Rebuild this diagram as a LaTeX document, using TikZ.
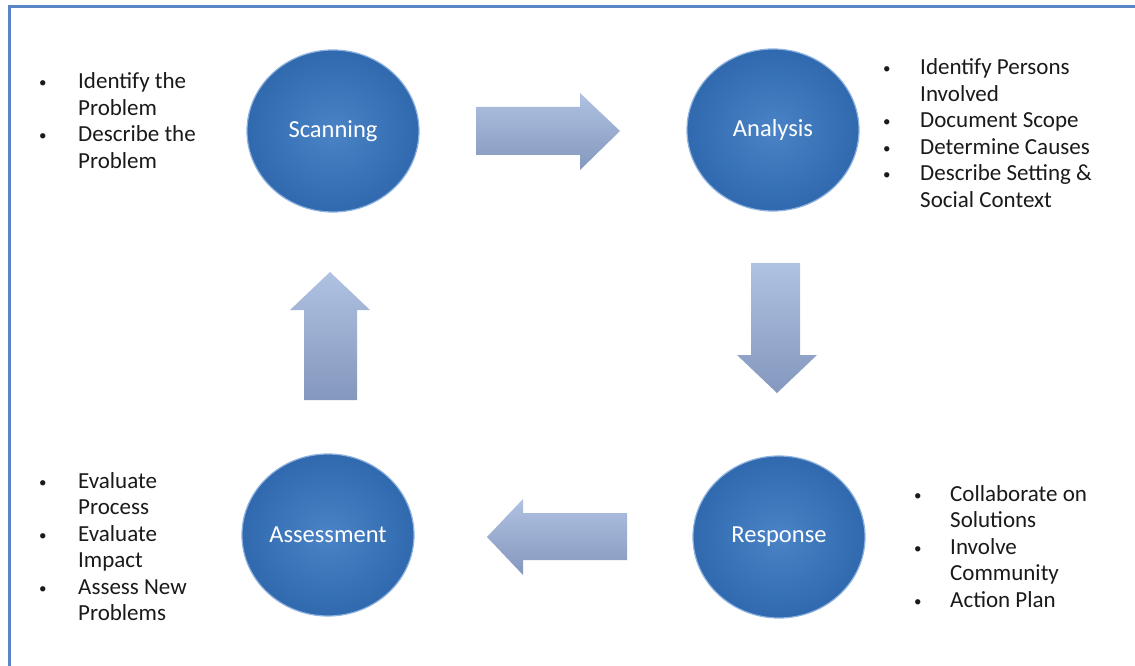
\documentclass[tikz,border=0pt]{standalone}
\usepackage{fontspec}
\setmainfont{Carlito}
\usetikzlibrary{shapes.geometric}
\definecolor{frameblue}{HTML}{5B85C4}
\definecolor{ballin}{HTML}{4A84C6}
\definecolor{ballout}{HTML}{3069AE}
\definecolor{ballrim}{HTML}{8DB2E0}
\definecolor{arrtop}{HTML}{B0C2E2}
\definecolor{arrbot}{HTML}{8497BD}
\definecolor{txt}{HTML}{1A1A1A}
\tikzset{
  stage/.style={ellipse, minimum width=172pt, minimum height=162pt, inner sep=0pt,
    shading=radial, inner color=ballin, outer color=ballout, draw=ballrim, line width=1.2pt,
    text=white, font=\fontsize{24.5}{28}\selectfont},
  bigarrow/.style={top color=arrtop, bottom color=arrbot, draw=none},
  notes/.style={anchor=base west, inner sep=0pt, text=txt, font=\fontsize{23}{26.5}\selectfont},
}
\newcommand{\bul}[1]{\makebox[#1][l]{\raisebox{1pt}{\fontsize{15}{15}\selectfont\textbullet}}}
\begin{document}
\begin{tikzpicture}[x=1pt,y=-1pt]
\useasboundingbox[fill=white] (0,0) rectangle (1135,666);
% frame
\draw[frameblue, line width=3pt] (9,666) -- (9,7) -- (1135,7);

% stages
\node[stage] (scan) at (333,131) {Scanning};
\node[stage] (anal) at (773,130) {Analysis};
\node[stage] (resp) at (779,537) {Response};
\node[stage] (asse) at (328,535) {Assessment};

% arrows
\path[bigarrow] (476,107) -- (580,107) -- (580,93) -- (620,131) -- (580,170) -- (580,155) -- (476,155) -- cycle;
\path[bigarrow] (751,263) -- (800,263) -- (800,355) -- (817,355) -- (777,393) -- (737,355) -- (751,355) -- cycle;
\path[bigarrow] (627,513) -- (523,513) -- (523,499) -- (487,537) -- (523,575) -- (523,560) -- (627,560) -- cycle;
\path[bigarrow] (304,400) -- (304,310) -- (290,310) -- (330,272) -- (370,310) -- (357,310) -- (357,400) -- cycle;

% notes
\node[notes] (scannotes) at (39,89) {\begin{tabular}[t]{@{}l@{}}
\bul{39pt}Identify the\\ \hspace{39pt}Problem\\ \bul{39pt}Describe the\\ \hspace{39pt}Problem\end{tabular}};
\node[notes] (analnotes) at (883,75) {\begin{tabular}[t]{@{}l@{}}
\bul{37pt}Identify Persons\\ \hspace{37pt}Involved\\
\bul{37pt}Document Scope\\
\bul{37pt}Determine Causes\\
\bul{37pt}Describe Setting \&\\ \hspace{37pt}Social Context\end{tabular}};
\node[notes] (respnotes) at (914,501) {\begin{tabular}[t]{@{}l@{}}
\bul{36pt}Collaborate on\\ \hspace{36pt}Solutions\\
\bul{36pt}Involve\\ \hspace{36pt}Community\\
\bul{36pt}Action Plan\end{tabular}};
\node[notes] (assenotes) at (39,488) {\begin{tabular}[t]{@{}l@{}}
\bul{39pt}Evaluate\\ \hspace{39pt}Process\\ \bul{39pt}Evaluate\\ \hspace{39pt}Impact\\
\bul{39pt}Assess New\\ \hspace{39pt}Problems\end{tabular}};
\end{tikzpicture}
\end{document}
